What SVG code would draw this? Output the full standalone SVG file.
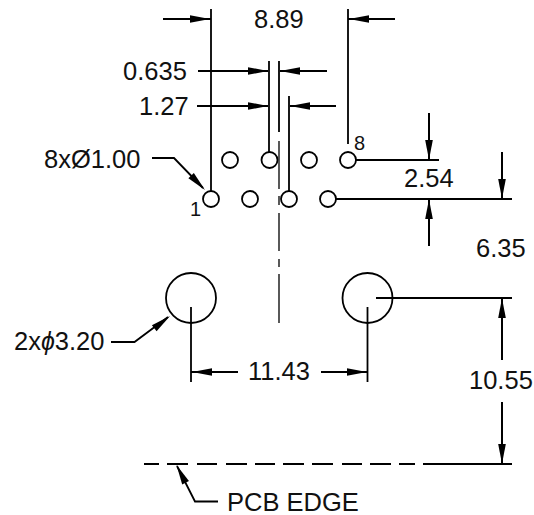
<svg xmlns="http://www.w3.org/2000/svg" width="534" height="515" viewBox="0 0 534 515">
<style>
text{font-family:"Liberation Sans",Arial,sans-serif;font-size:25.500px;fill:#111}
text.s{font-size:20px}
line,path,circle{fill:none;stroke:#000;stroke-width:1.8}
.b{stroke-width:2}
.t{stroke-width:1.3}
.a{fill:#000;stroke:none}
</style>
<defs>
<path id="ah" class="a" d="M0 0L-20-3.800V3.800Z"/>
</defs>
<rect width="534" height="515" fill="#fff"/>
<g id="connectors">
<line x1="211" y1="9" x2="211" y2="191"/>
<line x1="348" y1="9" x2="348" y2="144"/>
<line class="b" x1="163" y1="19" x2="211" y2="19"/>
<line class="b" x1="395" y1="19" x2="348" y2="19"/>
<use href="#ah" transform="translate(210 19)"/>
<use href="#ah" transform="translate(349 19) rotate(180)"/>
<line x1="269" y1="61" x2="269" y2="152"/>
<line x1="279" y1="61" x2="279" y2="132"/>
<line x1="289" y1="96" x2="289" y2="191"/>
<line class="b" x1="198" y1="71" x2="268" y2="71"/>
<line class="b" x1="327" y1="71" x2="280" y2="71"/>
<use href="#ah" transform="translate(268 71)"/>
<use href="#ah" transform="translate(280 71) rotate(180)"/>
<line class="b" x1="197" y1="106" x2="268" y2="106"/>
<line class="b" x1="336" y1="106" x2="290" y2="106"/>
<use href="#ah" transform="translate(268 106)"/>
<use href="#ah" transform="translate(290 106) rotate(180)"/>
<path class="t" d="M279 141V189M279 196V205M279 213V251M279 259V267M279 274V323"/>
<path d="M152 158H174L203 188"/>
<use href="#ah" transform="translate(205 190) rotate(46)"/>
<line class="b" x1="356" y1="160" x2="439" y2="160"/>
<line class="b" x1="336" y1="199" x2="512" y2="199"/>
<line class="b" x1="429" y1="113" x2="429" y2="160"/>
<use href="#ah" transform="translate(429 160) rotate(90)"/>
<line class="b" x1="429" y1="199" x2="429" y2="246"/>
<use href="#ah" transform="translate(429 199) rotate(-90)"/>
<line class="b" x1="502" y1="152" x2="502" y2="199"/>
<use href="#ah" transform="translate(502 199) rotate(90)"/>
<line x1="191" y1="307" x2="191" y2="382"/>
<line x1="367.500" y1="307" x2="367.500" y2="382"/>
<line class="b" x1="376" y1="298" x2="512" y2="298"/>
<line class="b" x1="191" y1="372" x2="238" y2="372"/>
<line class="b" x1="321" y1="372" x2="367" y2="372"/>
<use href="#ah" transform="translate(192 372) rotate(180)"/>
<use href="#ah" transform="translate(367 372)"/>
<line class="b" x1="502" y1="298" x2="502" y2="360"/>
<use href="#ah" transform="translate(502 298) rotate(-90)"/>
<line class="b" x1="502" y1="402" x2="502" y2="464"/>
<use href="#ah" transform="translate(502 464) rotate(90)"/>
<path d="M111 342H134.500L168 317"/>
<use href="#ah" transform="translate(170 316) rotate(-38)"/>
<path class="b" d="M144 464H159M167 464H188M197 464H217M226 464H247M255 464H275M283 464H304M312 464H333M342 464H362M370 464H391M399 464H415M423 464H512"/>
<path d="M218 501.500H195L177 466"/>
<use href="#ah" transform="translate(176.500 465) rotate(-117)"/>
</g>
<g id="pins">
<circle cx="230" cy="160" r="8"/>
<circle cx="269.500" cy="160" r="8"/>
<circle cx="309" cy="160" r="8"/>
<circle cx="348" cy="160" r="8"/>
<circle cx="211" cy="199" r="8"/>
<circle cx="250" cy="199" r="8"/>
<circle cx="289" cy="199" r="8"/>
<circle cx="328" cy="199" r="8"/>
</g>
<g id="holes">
<circle cx="191" cy="298" r="25"/>
<circle cx="367.500" cy="298" r="25"/>
</g>
<g id="labels">
<text x="254" y="28">8.89</text>
<text x="123" y="80">0.635</text>
<text x="139" y="115">1.27</text>
<text x="44" y="168">8xØ1.00</text>
<text class="s" x="190" y="216">1</text>
<text class="s" x="354" y="150">8</text>
<text x="404" y="187">2.54</text>
<text x="476" y="257">6.35</text>
<text x="14" y="350">2x<tspan font-style="italic" font-size="25">ϕ</tspan>3.20</text>
<text x="248" y="380">11.43</text>
<text x="469" y="389">10.55</text>
<text x="227" y="511">PCB EDGE</text>
</g>
</svg>
